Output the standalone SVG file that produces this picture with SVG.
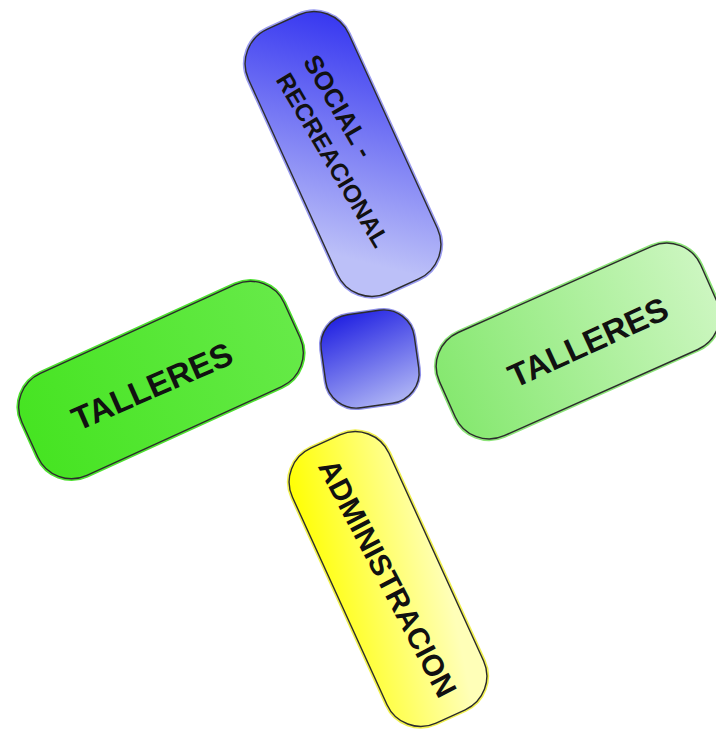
<svg xmlns="http://www.w3.org/2000/svg" width="716" height="738" viewBox="0 0 716 738">
<defs>
<linearGradient id="gBlue" x1="0" y1="0" x2="1" y2="0.3">
<stop offset="0" stop-color="#2f2ff0"/>
<stop offset="1" stop-color="#bcc0f8"/>
</linearGradient>
<linearGradient id="gCenter" x1="0.3" y1="0" x2="0.6" y2="1">
<stop offset="0" stop-color="#2424e2"/>
<stop offset="1" stop-color="#aab0f4"/>
</linearGradient>
<linearGradient id="gGreenL" x1="0" y1="0" x2="1" y2="0">
<stop offset="0" stop-color="#46e422"/>
<stop offset="1" stop-color="#66ea48"/>
</linearGradient>
<linearGradient id="gGreenR" x1="0" y1="0" x2="1" y2="0">
<stop offset="0" stop-color="#86e870"/>
<stop offset="1" stop-color="#ccf6c0"/>
</linearGradient>
<linearGradient id="gYellow" x1="0" y1="0.9" x2="0.6" y2="0">
<stop offset="0" stop-color="#ffff08"/>
<stop offset="1" stop-color="#ffffb8"/>
</linearGradient>
</defs>
<style>
.edge{stroke:#2c2c2c;stroke-width:1.4}
.lbl{font-family:"Liberation Sans",Arial,sans-serif;font-weight:bold;fill:#111;text-anchor:middle}
</style>
<rect width="716" height="738" fill="#ffffff"/>
<g id="connectors"/>
<g id="social">
<rect transform="translate(343,154) rotate(65.5)" x="-145" y="-55" width="290" height="110" rx="38" fill="none" stroke="#9a9cf0" stroke-width="4.5"/>
<rect class="edge" transform="translate(343,154) rotate(65.5)" x="-145" y="-55" width="290" height="110" rx="38" fill="url(#gBlue)"/>
<text class="lbl" font-size="26" transform="translate(339,106) rotate(60)" dy="0.36em">SOCIAL -</text>
<text class="lbl" font-size="24.5" transform="translate(333,160) rotate(59.5)" dy="0.36em">RECREACIONAL</text>
</g>
<g id="center">
<rect transform="translate(370,359) rotate(-8)" x="-47" y="-47" width="94" height="94" rx="31" fill="none" stroke="#8e90e8" stroke-width="4"/>
<rect class="edge" transform="translate(370,359) rotate(-8)" x="-47" y="-47" width="94" height="94" rx="31" fill="url(#gCenter)"/>
</g>
<g id="talleres-left">
<rect transform="translate(161,380) rotate(-24.5)" x="-144" y="-56" width="288" height="112" rx="37" fill="none" stroke="#4ee030" stroke-width="4.5"/>
<rect class="edge" transform="translate(161,380) rotate(-24.5)" x="-144" y="-56" width="288" height="112" rx="37" fill="url(#gGreenL)"/>
<text class="lbl" font-size="33" transform="translate(152,386) rotate(-23.6)" dy="0.36em">TALLERES</text>
</g>
<g id="talleres-right">
<rect transform="translate(578,341) rotate(-24)" x="-143" y="-56.5" width="286" height="113" rx="37" fill="none" stroke="#8ce478" stroke-width="4.5"/>
<rect class="edge" transform="translate(578,341) rotate(-24)" x="-143" y="-56.5" width="286" height="113" rx="37" fill="url(#gGreenR)"/>
<text class="lbl" font-size="33" transform="translate(588,342) rotate(-24.5)" dy="0.36em">TALLERES</text>
</g>
<g id="administracion">
<rect transform="translate(388,579) rotate(65.5)" x="-151" y="-53" width="302" height="106" rx="37" fill="none" stroke="#f0f050" stroke-width="4.5"/>
<rect class="edge" transform="translate(388,579) rotate(65.5)" x="-151" y="-53" width="302" height="106" rx="37" fill="url(#gYellow)"/>
<text class="lbl" font-size="30" transform="translate(388,578) rotate(62.5)" dy="0.36em">ADMINISTRACION</text>
</g>
</svg>
